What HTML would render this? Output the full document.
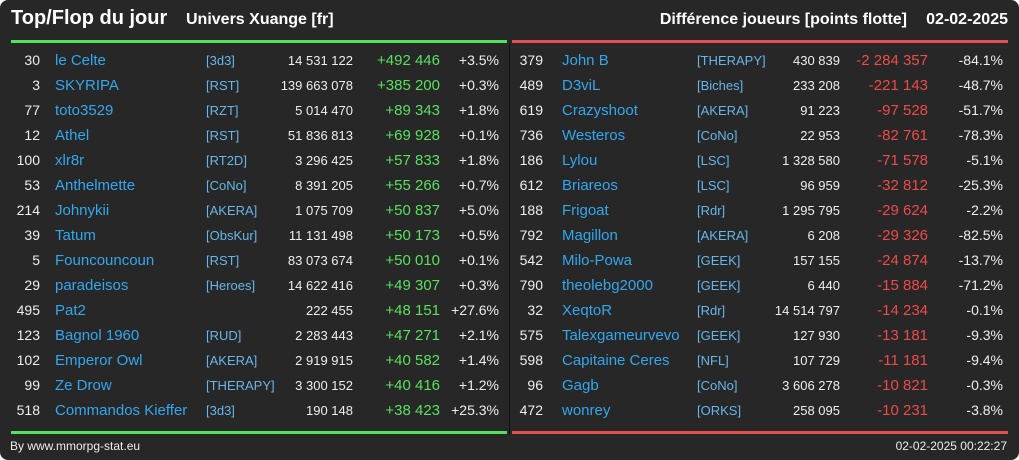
<!DOCTYPE html>
<html><head><meta charset="utf-8"><style>
body{margin:0;background:#fff;font-family:"Liberation Sans",sans-serif;}
#c{position:relative;width:1019px;height:460px;background:#272727;border-radius:8px;overflow:hidden;color:#eee;}
.t{position:absolute;white-space:nowrap;}
.row{position:absolute;height:25px;line-height:25px;white-space:nowrap;}
</style></head><body>
<div id="c">
<div class="t" style="left:11px;top:7px;font-size:20px;font-weight:bold;color:#fff">Top/Flop du jour</div>
<div class="t" style="left:186px;top:11px;font-size:16px;font-weight:bold;color:#fff">Univers Xuange [fr]</div>
<div class="t" style="right:112px;top:11px;font-size:16px;font-weight:bold;color:#fff">Différence joueurs [points flotte]</div>
<div class="t" style="right:11px;top:11px;font-size:16px;font-weight:bold;color:#fff">02-02-2025</div>
<div class="t" style="left:11px;top:40px;width:496px;height:3px;background:#4fe45a"></div>
<div class="t" style="left:512px;top:40px;width:496px;height:3px;background:#e44f4f"></div>
<div class="t" style="left:11px;top:431px;width:496px;height:3px;background:#4fe45a"></div>
<div class="t" style="left:512px;top:431px;width:496px;height:3px;background:#e44f4f"></div>
<div class="t" style="left:509px;top:43px;width:1px;height:391px;background:#111"></div>
<div class="t" style="left:10px;top:439px;font-size:12px;color:#eee">By www.mmorpg-stat.eu</div>
<div class="t" style="right:12px;top:439px;font-size:12px;color:#eee">02-02-2025 00:22:27</div>
<div id="rows"></div>
</div>
<script>
const topRanks=[30,3,77,12,100,53,214,39,5,29,495,123,102,99,518];
const topNames=["le Celte","SKYRIPA","toto3529","Athel","xlr8r","Anthelmette","Johnykii","Tatum","Founcouncoun","paradeisos","Pat2","Bagnol 1960","Emperor Owl","Ze Drow","Commandos Kieffer"];
const topClans=["[3d3]","[RST]","[RZT]","[RST]","[RT2D]","[CoNo]","[AKERA]","[ObsKur]","[RST]","[Heroes]","","[RUD]","[AKERA]","[THERAPY]","[3d3]"];
const topTotals=["14 531 122","139 663 078","5 014 470","51 836 813","3 296 425","8 391 205","1 075 709","11 131 498","83 073 674","14 622 416","222 455","2 283 443","2 919 915","3 300 152","190 148"];
const topDiffs=["+492 446","+385 200","+89 343","+69 928","+57 833","+55 266","+50 837","+50 173","+50 010","+49 307","+48 151","+47 271","+40 582","+40 416","+38 423"];
const topPcts=["+3.5%","+0.3%","+1.8%","+0.1%","+1.8%","+0.7%","+5.0%","+0.5%","+0.1%","+0.3%","+27.6%","+2.1%","+1.4%","+1.2%","+25.3%"];
const flopRanks=[379,489,619,736,186,612,188,792,542,790,32,575,598,96,472];
const flopNames=["John B","D3viL","Crazyshoot","Westeros","Lylou","Briareos","Frigoat","Magillon","Milo-Powa","theolebg2000","XeqtoR","Talexgameurvevo","Capitaine Ceres","Gagb","wonrey"];
const flopClans=["[THERAPY]","[Biches]","[AKERA]","[CoNo]","[LSC]","[LSC]","[Rdr]","[AKERA]","[GEEK]","[GEEK]","[Rdr]","[GEEK]","[NFL]","[CoNo]","[ORKS]"];
const flopTotals=["430 839","233 208","91 223","22 953","1 328 580","96 959","1 295 795","6 208","157 155","6 440","14 514 797","127 930","107 729","3 606 278","258 095"];
const flopDiffs=["-2 284 357","-221 143","-97 528","-82 761","-71 578","-32 812","-29 624","-29 326","-24 874","-15 884","-14 234","-13 181","-11 181","-10 821","-10 231"];
const flopPcts=["-84.1%","-48.7%","-51.7%","-78.3%","-5.1%","-25.3%","-2.2%","-82.5%","-13.7%","-71.2%","-0.1%","-9.3%","-9.4%","-0.3%","-3.8%"];
const host=document.getElementById('rows');
function cell(txt,x,y,w,align,size,color,name,inter){
  const d=document.createElement('div');
  d.className='row';
  
  
  d.style.left=x+'px';d.style.top=y+'px';d.style.width=w+'px';
  d.style.textAlign=align;d.style.fontSize=size+'px';d.style.color=color;
  d.textContent=txt;host.appendChild(d);
}
function side(ranks,names,clans,totals,diffs,pcts,o,dc,pfx,rankR,totR,difR,pctR,clanX){
  for(let i=0;i<ranks.length;i++){
    const y=48+i*25;
    cell(String(ranks[i]),o,y,rankR-o,'right',14,'#eee',pfx+'-rank',false);
    cell(names[i],o+44+(pfx==='flop'?6:0),y,150,'left',15,'#33a7ee',pfx+'-player-name',true);
    cell(clans[i],clanX,y,90,'left',13,'#67b6ea',pfx+'-clan',true);
    cell(totals[i],totR-100,y,100,'right',13,'#eee',pfx+'-total',false);
    cell(diffs[i],difR-90,y,90,'right',15,dc,pfx+'-diff',false);
    cell(pcts[i],pctR-60,y,60,'right',14,'#eee',pfx+'-pct',false);
  }
}
side(topRanks,topNames,topClans,topTotals,topDiffs,topPcts,11,'#59e060','top',40,353,440,499,206);
side(flopRanks,flopNames,flopClans,flopTotals,flopDiffs,flopPcts,512,'#ee4a4a','flop',543,840,928,1003,697);
</script>
</body></html>
